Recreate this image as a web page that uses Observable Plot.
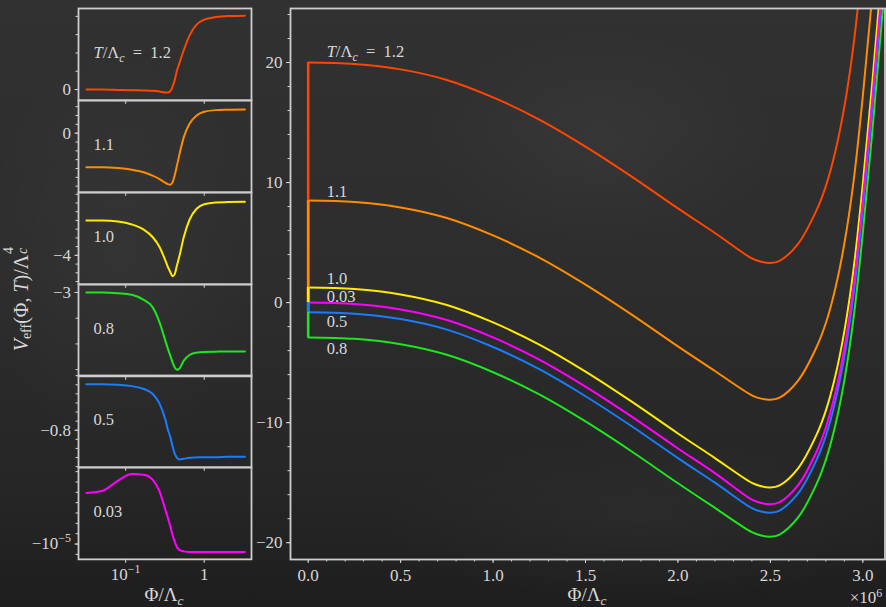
<!DOCTYPE html>
<html><head><meta charset="utf-8">
<script src="https://cdn.jsdelivr.net/npm/d3@7"></script>
<script src="https://cdn.jsdelivr.net/npm/@observablehq/plot@0.6"></script>
<style>
html,body{margin:0;padding:0;background:#262626;}
#board{position:relative;width:886px;height:607px;overflow:hidden;
 background:
  radial-gradient(ellipse 260px 160px at 600px 140px, rgba(255,255,255,0.035), rgba(255,255,255,0) 70%),
  radial-gradient(ellipse 380px 120px at 640px 520px, rgba(255,255,255,0.03), rgba(255,255,255,0) 70%),
  radial-gradient(ellipse 200px 300px at 120px 250px, rgba(255,255,255,0.03), rgba(255,255,255,0) 70%),
  linear-gradient(180deg, #313131 0%, #2d2d2d 45%, #272626 80%, #1f1e1e 100%);
 font-family:"Liberation Serif","DejaVu Serif",serif;color:#d8d8d8;}
#board svg{position:absolute;left:0;overflow:visible;}
.lab{position:absolute;white-space:nowrap;font-size:19px;color:#d8d8d8;line-height:1;}
.lab sub{font-size:70%;vertical-align:-0.25em;}
.lab sup{font-size:70%;vertical-align:0.5em;}
.ss{display:inline-block;position:relative;width:0.5em;height:1em;vertical-align:baseline;}
.ss .sp{position:absolute;left:0.05em;top:-0.45em;font-size:70%;}
.ss .sb{position:absolute;left:0.05em;top:0.55em;font-size:70%;}
</style></head><body><div id="board"></div>
<script>
// ---------- data ----------
const temps  = ["1.2", "1.1", "1.0", "0.8", "0.5", "0.03"];
const colors = ["#ff4500", "#ff8c00", "#ffea00", "#1ee61e", "#1a7bff", "#ff00ff"];

// main panel (Phi / Lambda_c, x 10^6)
const phiMain = [0, 0.25, 0.5, 0.75, 1.0, 1.25, 1.5, 1.75, 2.0, 2.2, 2.4, 2.45, 2.5, 2.55, 2.65, 2.75, 2.8, 2.85, 2.9, 2.95, 3.0, 3.05, 3.1, 3.15];
const vMain12  = [20, 19.88, 19.43, 18.55, 17.1, 15.25, 13.0, 10.5, 7.85, 5.8, 3.68, 3.4, 3.3, 3.48, 4.9, 7.7, 9.7, 12.5, 16.3, 21.5, 28.6, 36.8, 45.8, 55.3];
const vMain11  = [8.5, 8.38, 7.93, 7.05, 5.6, 3.75, 1.5, -1.0, -3.65, -5.7, -7.72, -8.0, -8.1, -7.92, -6.5, -3.7, -1.7, 1.1, 4.9, 10.1, 17.2, 25.4, 34.4, 43.9];
const vMain10  = [1.25, 1.13, 0.68, -0.2, -1.65, -3.5, -5.75, -8.25, -10.9, -12.95, -15.02, -15.3, -15.4, -15.22, -13.8, -11.0, -9.0, -6.2, -2.4, 2.8, 9.9, 18.1, 27.1, 36.6];
const vMain08  = [-2.9, -3.02, -3.47, -4.35, -5.8, -7.65, -9.9, -12.4, -15.05, -17.1, -19.12, -19.4, -19.5, -19.32, -17.9, -15.1, -13.1, -10.3, -6.5, -1.3, 5.8, 14.0, 23.0, 32.5];
const vMain05  = [-0.8, -0.92, -1.37, -2.25, -3.7, -5.55, -7.8, -10.3, -12.95, -15.0, -17.12, -17.4, -17.5, -17.32, -15.9, -13.1, -11.1, -8.3, -4.5, 0.7, 7.8, 16.0, 25.0, 34.5];
const vMain003 = [0, -0.12, -0.57, -1.45, -2.9, -4.75, -7.0, -9.5, -12.15, -14.2, -16.42, -16.7, -16.8, -16.62, -15.2, -12.4, -10.4, -7.6, -3.8, 1.4, 8.5, 16.7, 25.7, 35.2];
const mainSeries = [vMain12, vMain11, vMain10, vMain08, vMain05, vMain003];
const originV = 0; // value every curve starts from at Phi = 0

const mainXTicks = [0, 0.5, 1, 1.5, 2, 2.5, 3];
const mainXTickLabels = ["0.0", "0.5", "1.0", "1.5", "2.0", "2.5", "3.0"];
const mainYTicks = [-20, -10, 0, 10, 20];
const mainYTickLabels = ["−20", "−10", "0", "10", "20"];
const mainLabels = ["T/Λc = 1.2", "1.1", "1.0", "0.8", "0.5", "0.03"];

// inset panels (Phi / Lambda_c, log scale)
const phiSmall = [0.0316, 0.05, 0.08, 0.12, 0.17, 0.22, 0.27, 0.32, 0.345, 0.37, 0.395, 0.42, 0.45, 0.48, 0.55, 0.65, 0.8, 1.0, 1.4, 2.0, 3.3];
const small12  = [0, 0, -0.02, -0.04, -0.05, -0.07, -0.11, -0.16, -0.16, -0.09, 0.16, 0.49, 1.04, 1.4, 2.16, 2.95, 3.55, 3.82, 3.96, 4.02, 4.04];
const small11  = [-3.86, -3.86, -3.94, -4.13, -4.43, -4.81, -5.19, -5.61, -5.76, -5.83, -5.57, -4.81, -3.67, -2.54, -0.45, 1.06, 2.0, 2.42, 2.61, 2.65, 2.69];
const small10  = [-2.0, -2.0, -2.06, -2.23, -2.53, -2.95, -3.52, -4.29, -4.67, -4.95, -5.2, -5.09, -4.57, -4.1, -2.95, -1.96, -1.33, -1.07, -0.97, -0.95, -0.93];
const small08  = [-3.0, -3.0, -3.03, -3.09, -3.29, -3.57, -4.16, -4.87, -5.19, -5.45, -5.71, -5.91, -6.0, -5.97, -5.65, -5.43, -5.34, -5.31, -5.30, -5.29, -5.29];
const small05  = [-0.293, -0.293, -0.30, -0.315, -0.347, -0.399, -0.508, -0.683, -0.793, -0.873, -0.975, -1.055, -1.103, -1.121, -1.114, -1.103, -1.099, -1.096, -1.096, -1.092, -1.092];
const small003 = [-5.06, -4.87, -3.87, -3.23, -3.29, -3.77, -4.9, -6.68, -7.48, -8.29, -9.1, -9.74, -10.32, -10.55, -10.71, -10.77, -10.77, -10.77, -10.77, -10.77, -10.77];
const smallSeries = [small12, small11, small10, small08, small05, small003];

const smallYLabelTicks = [0, 0, -4, -3, -0.8, -10];
const smallYTickLabels = ["0", "0", "−4", "−3", "−0.8", "−10^−5"];
const smallXTicks = [0.1, 1];
const smallXTickLabels = ["10^−1", "1"];
const panelLabels = ["T/Λc = 1.2", "1.1", "1.0", "0.8", "0.5", "0.03"];

// ---------- drawing ----------
const board = document.getElementById("board");
const NS = "http://www.w3.org/2000/svg";
const FONT = '"Liberation Serif", "DejaVu Serif", serif';
const baseStyle = {background: "transparent", color: "#d6d6d6", overflow: "visible"};
const frameColor = "#cdcdcd";

function tspan(t, txt, attrs) {
  const s = document.createElementNS(NS, "tspan");
  s.textContent = txt;
  for (const k in attrs) s.setAttribute(k, attrs[k]);
  t.appendChild(s);
}
function richify(svg) {
  svg.setAttribute("font-family", FONT);
  svg.style.fontFamily = FONT;
  for (const t of svg.querySelectorAll("text")) {
    t.style.fontFamily = FONT;
    if (!t.closest("g[font-size]") && !t.hasAttribute("font-size")) t.style.fontSize = "17px";
    const s = t.textContent;
    if (s.startsWith("T/Λc")) {
      t.textContent = "";
      tspan(t, "T", {"font-style": "italic"});
      tspan(t, "/Λ", {});
      tspan(t, "c", {"font-style": "italic", "font-size": "12", dy: "4"});
      tspan(t, s.slice(4).replace(/ /g, "\u2002"), {dy: "-4"});
    } else if (s.includes("^")) {
      const [b, p] = s.split("^");
      t.textContent = "";
      tspan(t, b, {});
      tspan(t, p, {"font-size": "12", dy: "-7"});
    }
  }
}

// main panel
const mainData = [];
temps.forEach((T, i) => phiMain.forEach((p, j) => mainData.push({T, phi: p, v: mainSeries[i][j]})));
const vertData = temps.map((T, i) => ({T, phi: phiMain[0], v0: originV, v1: mainSeries[i][0]}));
const labelDy = {"1.2": -11, "1.1": -9, "1.0": -9, "0.8": 11, "0.5": 10, "0.03": -6};

const main = Plot.plot({
  width: 886, height: 607,
  marginLeft: 290, marginRight: 1.5, marginTop: 8, marginBottom: 48,
  style: baseStyle,
  x: {domain: [-0.0957, 3.12]},
  y: {domain: [-21.4, 24.5]},
  color: {domain: temps, range: colors},
  marks: [
    Plot.axisX({ticks: d3.range(0, 31).map(k => k / 10), tickSize: 2.5, tickFormat: () => "", label: null}),
    Plot.axisX({ticks: mainXTicks, tickSize: 4, tickPadding: 5, tickFormat: d => mainXTickLabels[mainXTicks.indexOf(d)], label: null}),
    Plot.axisY({ticks: d3.range(-20, 25, 2), tickSize: 2.5, tickFormat: () => "", label: null}),
    Plot.axisY({ticks: mainYTicks, tickSize: 4, tickPadding: 4, tickFormat: d => mainYTickLabels[mainYTicks.indexOf(d)], label: null}),
    Plot.line(mainData, {x: "phi", y: "v", z: "T", stroke: "T", strokeWidth: 2, curve: "catmull-rom", clip: true}),
    Plot.ruleX(vertData, {x: "phi", y1: "v0", y2: "v1", stroke: "T", strokeWidth: 2.6}),
    ...temps.map((T, i) => Plot.text([{phi: 0.1, v: mainSeries[i][0], label: mainLabels[i]}],
      {x: "phi", y: "v", text: "label", textAnchor: "start", dy: labelDy[T], fill: "#d8d8d8", fontSize: 16.5})),
    Plot.frame({stroke: frameColor, strokeWidth: 1.8})
  ]
});
main.style.top = "0px";
richify(main);
board.appendChild(main);

// inset panels
const panelH = 91.85;
const smallCfg = [
  {domain: [-0.59, 4.43], minor: d3.range(0, 5, 1)},
  {domain: [-6.7, 3.7], minor: d3.range(-6, 4, 1)},
  {domain: [-5.66, -0.4], minor: d3.range(-11, -0.5, 1).map(k => k / 2)},
  {domain: [-6.26, -2.69], minor: d3.range(-6, -2.5, 1)},
  {domain: [-1.208, -0.198], minor: d3.range(-12, -1.5, 1).map(k => k / 10)},
  {domain: [-11.48, -2.6], minor: d3.range(-11, -2.5, 1)}
];
temps.forEach((T, i) => {
  const last = i === temps.length - 1;
  const mt = 4, mb = last ? 50 : 10;
  const data = phiSmall.map((p, j) => ({phi: p, v: smallSeries[i][j]}));
  const cfg = smallCfg[i];
  const chart = Plot.plot({
    width: 254, height: panelH + mt + mb,
    marginLeft: 78, marginRight: 3, marginTop: mt, marginBottom: mb,
    style: baseStyle,
    x: {type: "log", domain: [0.0251, 4.0]},
    y: {domain: cfg.domain},
    marks: [
      Plot.axisY({ticks: cfg.minor, tickSize: 2.5, tickFormat: () => "", label: null}),
      Plot.axisY({ticks: [smallYLabelTicks[i]], tickSize: 3.5, tickPadding: 4, tickFormat: () => smallYTickLabels[i], label: null}),
      Plot.axisX({ticks: smallXTicks, tickSize: 4, tickPadding: 5,
        tickFormat: last ? (d => smallXTickLabels[smallXTicks.indexOf(d)]) : (() => ""), label: null}),
      Plot.line(data, {x: "phi", y: "v", stroke: colors[i], strokeWidth: 2, curve: "monotone-x", clip: true}),
      Plot.text([panelLabels[i]], {frameAnchor: "left", dx: 15, dy: -2, textAnchor: "start", fill: "#d8d8d8", fontSize: 16.5}),
      Plot.frame({stroke: frameColor, strokeWidth: 1.8})
    ]
  });
  chart.style.top = (8 + i * panelH - mt) + "px";
  richify(chart);
  board.appendChild(chart);
});

// axis titles
function addLabel(html, css) {
  const d = document.createElement("div");
  d.className = "lab";
  d.innerHTML = html;
  Object.assign(d.style, css);
  board.appendChild(d);
}
addLabel("Φ/Λ<sub><i>c</i></sub>", {left: "587px", top: "596px", transform: "translate(-50%,-50%)"});
addLabel("Φ/Λ<sub><i>c</i></sub>", {left: "164px", top: "596px", transform: "translate(-50%,-50%)"});
addLabel("×10<sup>6</sup>", {left: "866px", top: "597px", transform: "translate(-50%,-50%)", fontSize: "17px"});
addLabel("<i>V</i><sub>eff</sub>(Φ, <i>T</i>)/Λ<span class='ss'><span class='sp'>4</span><span class='sb'><i>c</i></span></span>",
  {left: "21px", top: "298px", transform: "translate(-50%,-50%) rotate(-90deg)", fontSize: "20px"});
</script></body></html>
